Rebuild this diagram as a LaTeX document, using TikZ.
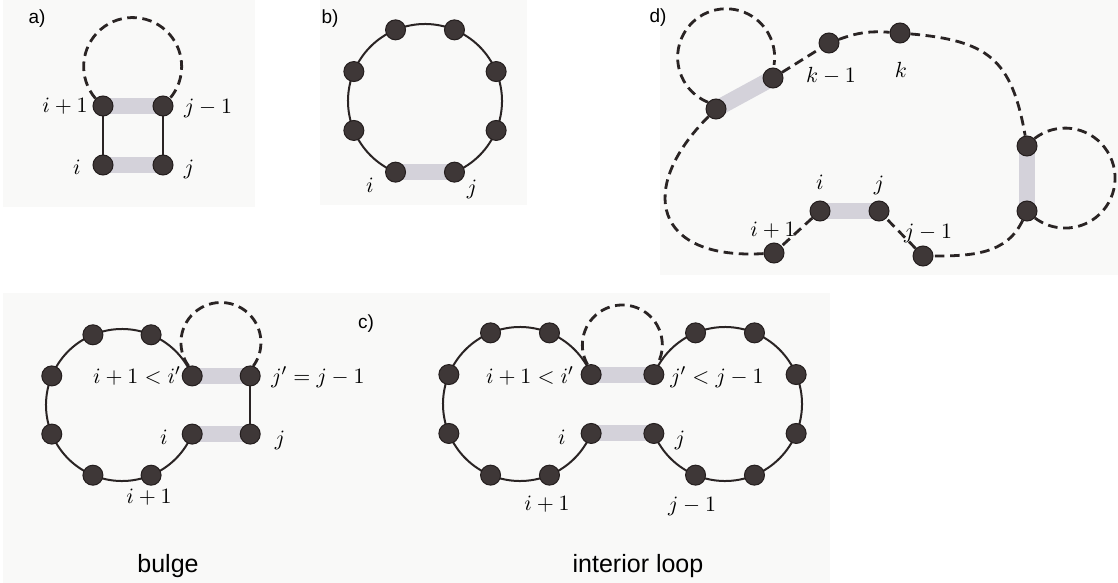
\documentclass[tikz,border=0pt]{standalone}
\usepackage{fontspec}
\usepackage{amsmath}
\usetikzlibrary{calc}
\newfontfamily\panelfont{Liberation Sans}
\definecolor{rnDot}{HTML}{3E3737}
\definecolor{rnRim}{HTML}{241E1E}
\definecolor{rnBar}{HTML}{D4D2DA}
\definecolor{rnInk}{HTML}{2A2424}
\definecolor{rnPaper}{HTML}{F9F9F8}
\pgfdeclarelayer{paper}
\pgfdeclarelayer{strand}
\pgfsetlayers{paper,strand,main}

\begin{document}
\begin{tikzpicture}[x=0.5pt, y=0.5pt,
    base/.style={circle, fill=rnDot, draw=rnRim, line width=0.5pt, minimum size=10pt, inner sep=0pt},
    pair/.style={rnBar, line width=8pt},
    chain/.style={rnInk, line width=1pt},
    loopline/.style={rnInk, line width=1.4pt, dash pattern=on 4.8pt off 2.8pt},
    lab/.style={inner sep=0pt, font=\fontsize{10.95}{13}\selectfont},
    tag/.style={inner sep=0pt, font=\panelfont\fontsize{9.5}{11}\selectfont},
    caption/.style={inner sep=0pt, font=\panelfont\fontsize{12.5}{15}\selectfont}]
  \useasboundingbox (0,0) rectangle (1118,-583);
  \begin{pgfonlayer}{paper}
    \fill[rnPaper] (3,0) rectangle (255,-207);
    \fill[rnPaper] (320,0) rectangle (527,-205);
    \fill[rnPaper] (660,0) rectangle (1118,-275);
    \fill[rnPaper] (3,-293) rectangle (830,-583);
  \end{pgfonlayer}

  % a) stacked pair
  \node[tag] (atag) at (37,-19) {a)};
  \node[base] (ai) at (103,-165) {};
  \node[base] (aj) at (163,-165) {};
  \node[base] (aip) at (103,-106) {};
  \node[base] (ajm) at (163,-106) {};
  \node[lab] (aipl) at (65,-106) {$i+1$};
  \node[lab] (ajml) at (208,-108) {$j-1$};
  \node[lab] (ail) at (77,-167) {$i$};
  \node[lab] (ajl) at (189,-169) {$j$};
  \begin{pgfonlayer}{strand}
    \draw[pair] (ai.center) -- (aj.center);
    \draw[pair] (aip.center) -- (ajm.center);
    \draw[chain] (ai) -- (aip);
    \draw[chain] (aj) -- (ajm);
    \draw[loopline] (aip.135) arc[start angle=220.8, end angle=-40.8, radius=49];
  \end{pgfonlayer}

  % b) hairpin
  \node[tag] (btag) at (330,-19) {b)};
  \coordinate (bc) at (425,-101);
  \foreach \k in {0,...,7}
    \node[base] (b\k) at ($(bc)+(22.5+45*\k:77)$) {};
  \node[lab] (bil) at (370,-185) {$i$};
  \node[lab] (bjl) at (472,-189) {$j$};
  \begin{pgfonlayer}{strand}
    \draw[pair] (b5.center) -- (b6.center);
    \draw[chain] (b6.center) arc[start angle=292.5, end angle=607.5, radius=77];
  \end{pgfonlayer}

  % c) bulge
  \node[tag] (ctag) at (366,-324) {c)};
  \coordinate (cc) at (122,-405);
  \foreach \k in {0,...,7}
    \node[base] (c\k) at ($(cc)+(22.5+45*\k:76)$) {};
  \node[base] (cjp) at ($(c0)+(58,0)$) {};
  \node[base] (cj) at ($(c7)+(58,0)$) {};
  \node[lab] (cipl) at (137,-376) {$i+1<i'$};
  \node[lab] (cjpl) at (318,-377) {$j'=j-1$};
  \node[lab] (cil) at (164,-437) {$i$};
  \node[lab] (cjl) at (280,-440) {$j$};
  \node[lab] (cnextl) at (149,-497) {$i+1$};
  \node[caption] (cname) at (168,-566) {bulge};
  \begin{pgfonlayer}{strand}
    \draw[pair] (c0.center) -- (cjp.center);
    \draw[pair] (c7.center) -- (cj.center);
    \draw[chain] (cjp) -- (cj);
    \draw[chain] (c0.center) arc[start angle=22.5, end angle=337.5, radius=76];
    \draw[loopline] (c0.110) arc[start angle=216.1, end angle=-36.1, radius=40];
  \end{pgfonlayer}

  % c) interior loop
  \coordinate (lc) at (520,-404);
  \coordinate (rc) at (725,-404);
  \foreach \k in {0,...,7} {
    \node[base] (l\k) at ($(lc)+(22.5+45*\k:77)$) {};
    \node[base] (r\k) at ($(rc)+(22.5+45*\k:77)$) {};
  }
  \node[lab] (lipl) at (530,-376) {$i+1<i'$};
  \node[lab] (rjpl) at (717,-377) {$j'<j-1$};
  \node[lab] (lil) at (562,-437) {$i$};
  \node[lab] (rjl) at (680,-440) {$j$};
  \node[lab] (lnextl) at (547,-504) {$i+1$};
  \node[lab] (rprevl) at (692,-506) {$j-1$};
  \node[caption] (iname) at (638,-566) {interior loop};
  \begin{pgfonlayer}{strand}
    \draw[pair] (l0.center) -- (r3.center);
    \draw[pair] (l7.center) -- (r4.center);
    \draw[chain] (l0.center) arc[start angle=22.5, end angle=337.5, radius=77];
    \draw[chain] (r4.center) arc[start angle=202.5, end angle=517.5, radius=77];
    \draw[loopline] (l0.110) arc[start angle=209.5, end angle=-29.5, radius=40];
  \end{pgfonlayer}

  % d) multiloop
  \node[tag] (dtag) at (658,-18) {d)};
  \node[base] (dA) at (716,-109) {};
  \node[base] (dB) at (773,-78) {};
  \node[base] (dkm) at (829,-43) {};
  \node[base] (dk) at (900,-33) {};
  \node[base] (dRa) at (1027,-146) {};
  \node[base] (dRb) at (1027,-211) {};
  \node[base] (djm) at (923,-256) {};
  \node[base] (dj) at (879,-211) {};
  \node[base] (di) at (820,-211) {};
  \node[base] (dip) at (774,-253) {};
  \node[lab] (dkml) at (831,-76) {$k-1$};
  \node[lab] (dkl) at (901,-70) {$k$};
  \node[lab] (dil) at (820,-182) {$i$};
  \node[lab] (djl) at (879,-185) {$j$};
  \node[lab] (dipl) at (773,-230) {$i+1$};
  \node[lab] (djml) at (928,-233) {$j-1$};
  \begin{pgfonlayer}{strand}
    \draw[pair] (dA.center) -- (dB.center);
    \draw[pair] (di.center) -- (dj.center);
    \draw[pair] (dRa.center) -- (dRb.center);
    \draw[loopline] (dA.140) arc[start angle=248, end angle=-9, radius=48.5];
    \draw[loopline] (dB) -- (dkm);
    \draw[loopline] (dkm) to[bend left=12] (dk);
    \draw[loopline] (dk) to[out=-5, in=100, looseness=1.3] (dRa);
    \draw[loopline] (dRa.45) arc[start angle=127.8, end angle=-127.8, radius=50];
    \draw[loopline] (dRb) to[out=-115, in=0] (djm);
    \draw[loopline] (djm) -- (dj);
    \draw[loopline] (di) -- (dip);
    \draw[loopline] (dip) .. controls +(-120,-7) and +(-80,-80) .. (dA);
  \end{pgfonlayer}
\end{tikzpicture}
\end{document}
